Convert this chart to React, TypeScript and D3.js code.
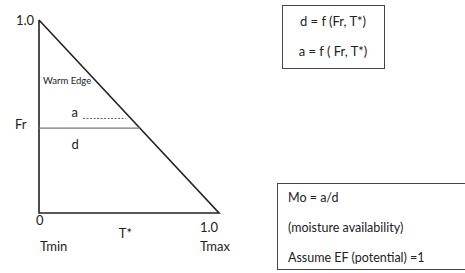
import React from "react";
import * as d3 from "d3";

// triangle corners in (T*, Fr) space
const triangle = [
  { t: 0, fr: 1 },
  { t: 0, fr: 0 },
  { t: 1, fr: 0 },
  { t: 0, fr: 1 },
];
const frLevel = 0.44;
const aDash = [
  { t: 0.245, fr: 0.49 },
  { t: 0.48, fr: 0.49 },
];
const axisLabels = [
  { text: "1.0", t: 0, fr: 1, dx: -23, dy: 5 },
  { text: "0", t: 0, fr: 0, dx: -3, dy: 12 },
  { text: "1.0", t: 1, fr: 0, dx: -19, dy: 19 },
  { text: "Tmin", t: 0, fr: 0, dx: 1, dy: 38 },
  { text: "Tmax", t: 1, fr: 0, dx: -19, dy: 38 },
  { text: "T*", t: 0.48, fr: 0, dx: 0, dy: 25 },
];
const formulas = ["d = f (Fr, T*)", "a = f ( Fr, T*)"];
const notes = ["Mo = a/d", "(moisture availability)", "Assume EF (potential) =1"];

const font = "Lato, 'Open Sans', sans-serif";

export default function App() {
  const x = d3.scaleLinear().domain([0, 1]).range([39, 219]);
  const y = d3.scaleLinear().domain([0, 1]).range([213, 20]);
  const line = d3
    .line<{ t: number; fr: number }>()
    .x((d) => x(d.t))
    .y((d) => y(d.fr));
  // where the Fr level meets the hypotenuse
  const frEnd = 1 - frLevel;

  return (
    <svg
      width={465}
      height={273}
      style={{ position: "absolute", left: 0, top: 0, background: "#fff" }}
      fontFamily={font}
    >
      <path d={line(triangle) ?? ""} fill="none" stroke="#222" strokeWidth={1.6} />
      <line
        x1={x(0)}
        x2={x(frEnd)}
        y1={y(frLevel)}
        y2={y(frLevel)}
        stroke="#777"
        strokeWidth={1.2}
      />
      <path d={line(aDash) ?? ""} stroke="#333" strokeWidth={0.8} strokeDasharray="2,1.5" />

      {axisLabels.map((l, i) => (
        <text
          key={i}
          x={x(l.t) + l.dx}
          y={y(l.fr) + l.dy}
          fontSize={13}
          fill="#222"
          textAnchor={l.text === "T*" ? "middle" : "start"}
        >
          {l.text}
        </text>
      ))}
      <text x={x(0) - 24} y={y(frLevel) + 1} fontSize={13} fill="#222">
        Fr
      </text>
      <text x={x(0) + 4} y={y(0.67)} fontSize={9.5} fill="#222">
        Warm Edge
      </text>
      <text x={x(0.18)} y={y(0.5)} fontSize={13} fill="#222">
        a
      </text>
      <text x={x(0.18)} y={y(0.33)} fontSize={13} fill="#222">
        d
      </text>

      <rect x={282.5} y={5.5} width={102} height={63} fill="none" stroke="#444" strokeWidth={1} />
      {formulas.map((f, i) => (
        <text key={f} x={333} y={26 + i * 30} fontSize={13} textAnchor="middle" fill="#222">
          {f}
        </text>
      ))}

      <rect x={277.5} y={183.5} width={200} height={86} fill="none" stroke="#444" strokeWidth={1} />
      {notes.map((n, i) => (
        <text key={n} x={288} y={202 + i * 30} fontSize={12.5} fill="#222">
          {n}
        </text>
      ))}
    </svg>
  );
}
